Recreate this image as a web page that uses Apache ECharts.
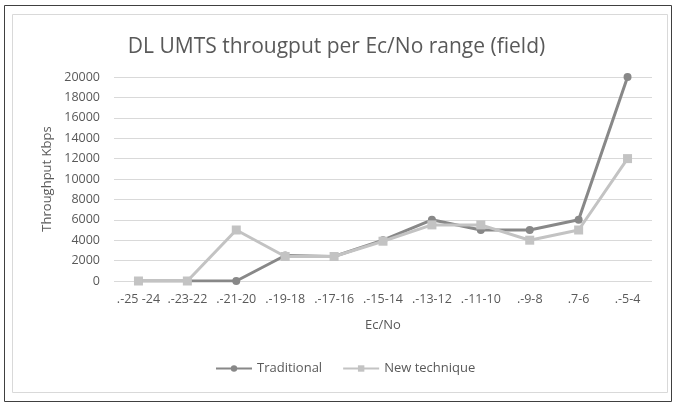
<!DOCTYPE html>
<html>
<head>
<meta charset="utf-8">
<style>
  html, body { margin: 0; padding: 0; background: #fff; }
  #chart { width: 673px; height: 404px; }
</style>
<script src="https://cdn.jsdelivr.net/npm/echarts@6/dist/echarts.min.js"></script>
</head>
<body>
<div id="chart"></div>
<script>
const categories = [".-25 -24", ".-23-22", ".-21-20", ".-19-18", ".-17-16", ".-15-14", ".-13-12", ".-11-10", ".-9-8", ".7-6", ".-5-4"];
const traditional = [0, 0, 0, 2500, 2400, 4000, 6000, 5000, 5000, 6000, 20000];
const newTechnique = [0, 0, 5000, 2400, 2400, 3900, 5500, 5500, 4000, 5000, 12000];

const font = "'Open Sans', sans-serif";
const textColor = "#595959";

const chart = echarts.init(document.getElementById("chart"));
chart.setOption({
  animation: false,
  textStyle: { fontFamily: font },
  graphic: [
    { type: "rect", shape: { x: 4.5, y: 5.5, width: 667, height: 396 }, style: { fill: "none", stroke: "#404040", lineWidth: 1 } },
    { type: "rect", shape: { x: 12.5, y: 14.5, width: 655, height: 378 }, style: { fill: "none", stroke: "#d9d9d9", lineWidth: 1 } }
  ],
  title: {
    text: "DL UMTS througput per Ec/No range (field)",
    left: "center",
    top: 32,
    textStyle: { fontFamily: font, fontSize: 21, fontWeight: "normal", color: textColor }
  },
  legend: {
    bottom: 24,
    left: 210,
    itemGap: 20,
    itemWidth: 36,
    itemHeight: 8,
    textStyle: { fontFamily: font, fontSize: 13, color: textColor },
    data: ["Traditional", "New technique"]
  },
  grid: { left: 114, right: 21, top: 77, bottom: 123 },
  xAxis: {
    type: "category",
    data: categories,
    boundaryGap: true,
    name: "Ec/No",
    nameLocation: "middle",
    nameGap: 38,
    nameTextStyle: { fontFamily: font, fontSize: 13, color: textColor },
    axisLine: { show: false },
    axisTick: { show: false },
    axisLabel: { fontFamily: font, fontSize: 12.5, color: textColor, margin: 12, interval: 0 }
  },
  yAxis: {
    type: "value",
    min: 0,
    max: 20000,
    interval: 2000,
    name: "Throughput Kbps",
    nameLocation: "middle",
    nameGap: 56,
    nameTextStyle: { fontFamily: font, fontSize: 13, color: textColor },
    axisLine: { show: false },
    axisTick: { show: false },
    axisLabel: { fontFamily: font, fontSize: 12.5, color: textColor, margin: 14, formatter: (v) => String(v) },
    splitLine: { lineStyle: { color: "#d9d9d9", width: 1 } }
  },
  series: [
    {
      name: "Traditional",
      type: "line",
      data: traditional,
      symbol: "circle",
      symbolSize: 8,
      lineStyle: { color: "#888888", width: 3 },
      itemStyle: { color: "#888888" }
    },
    {
      name: "New technique",
      type: "line",
      data: newTechnique,
      symbol: "rect",
      symbolSize: 9,
      lineStyle: { color: "#c3c3c3", width: 3 },
      itemStyle: { color: "#c3c3c3" }
    }
  ]
});
</script>
</body>
</html>
